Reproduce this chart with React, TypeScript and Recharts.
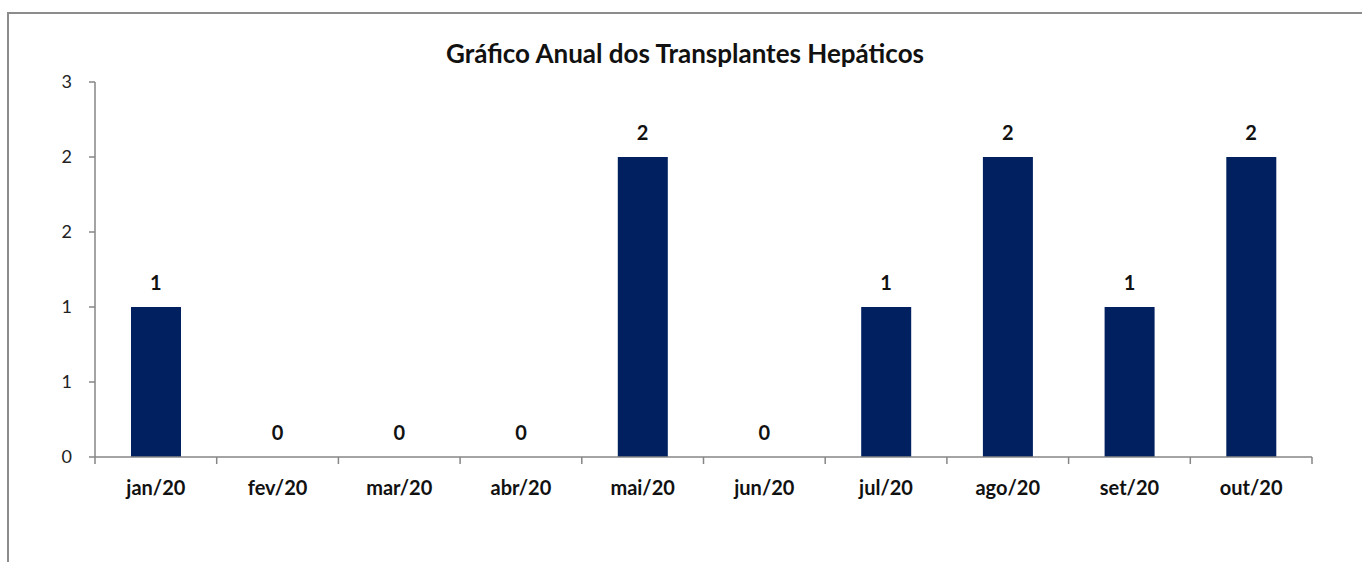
import { ComposedChart, Bar, Line, XAxis, YAxis } from 'recharts';

const months = ['jan/20', 'fev/20', 'mar/20', 'abr/20', 'mai/20', 'jun/20', 'jul/20', 'ago/20', 'set/20', 'out/20'];
const transplantes = [1, 0, 0, 0, 2, 0, 1, 2, 1, 2];
const yTicks = [0, 0.5, 1, 1.5, 2, 2.5];

const data = months.map((m, i) => ({ mes: m, valor: transplantes[i] }));

const font = 'Lato, "Open Sans", sans-serif';
const axisColor = '#868686';

// category label + tick marks on the band boundaries (Excel style)
function MonthTick(props: any) {
  const { x, y, payload, index, visibleTicksCount } = props;
  const half = payload.offset || 0;
  const isLast = index === (visibleTicksCount ?? months.length) - 1;
  return (
    <g>
      <line x1={x - half} x2={x - half} y1={y} y2={y + 7} stroke={axisColor} strokeWidth={1.5} />
      {isLast && <line x1={x + half} x2={x + half} y1={y} y2={y + 7} stroke={axisColor} strokeWidth={1.5} />}
      <text
        x={x}
        y={y + 24}
        dy="0.71em"
        textAnchor="middle"
        fill="#111"
        fontSize={20}
        fontWeight={700}
        fontFamily={font}
      >
        {payload.value}
      </text>
    </g>
  );
}

// value labels hang off an invisible line so the zero months get one too
function ValueLabel(props: any) {
  const { x, y, value } = props;
  return (
    <text x={x} y={y - 17} textAnchor="middle" fill="#111" fontSize={20} fontWeight={700} fontFamily={font}>
      {String(value)}
    </text>
  );
}

export default function App() {
  return (
    <div
      style={{
        position: 'absolute',
        left: 7,
        top: 12,
        width: 1355,
        height: 550,
        borderLeft: '2px solid #8c8c8c',
        borderTop: '2px solid #8c8c8c',
        background: '#fff',
        fontFamily: font,
      }}
    >
      <div
        style={{
          position: 'absolute',
          left: 0,
          width: 1352,
          top: 23,
          textAlign: 'center',
          fontSize: 26,
          fontWeight: 700,
          color: '#111',
        }}
      >
        Gráfico Anual dos Transplantes Hepáticos
      </div>
      <ComposedChart
        width={1355}
        height={550}
        data={data}
        margin={{ top: 68, right: 52, left: 0, bottom: 67 }}
      >
        <XAxis
          dataKey="mes"
          height={40}
          axisLine={{ stroke: axisColor, strokeWidth: 1.5 }}
          tickLine={false}
          tickSize={0}
          tickMargin={0}
          interval={0}
          tick={<MonthTick />}
        />
        <YAxis
          width={86}
          domain={[0, 2.5]}
          ticks={yTicks}
          interval={0}
          tickFormatter={(v: number) => String(Math.round(v))}
          tickSize={6}
          tickMargin={17}
          axisLine={{ stroke: axisColor, strokeWidth: 1.5 }}
          tickLine={{ stroke: axisColor, strokeWidth: 1.5 }}
          tick={{ fill: '#222', fontSize: 18, fontFamily: font }}
        />
        <Bar dataKey="valor" fill="#002060" barSize={50} isAnimationActive={false} />
        <Line
          dataKey="valor"
          stroke="none"
          dot={false}
          activeDot={false}
          legendType="none"
          isAnimationActive={false}
          label={<ValueLabel />}
        />
      </ComposedChart>
    </div>
  );
}
